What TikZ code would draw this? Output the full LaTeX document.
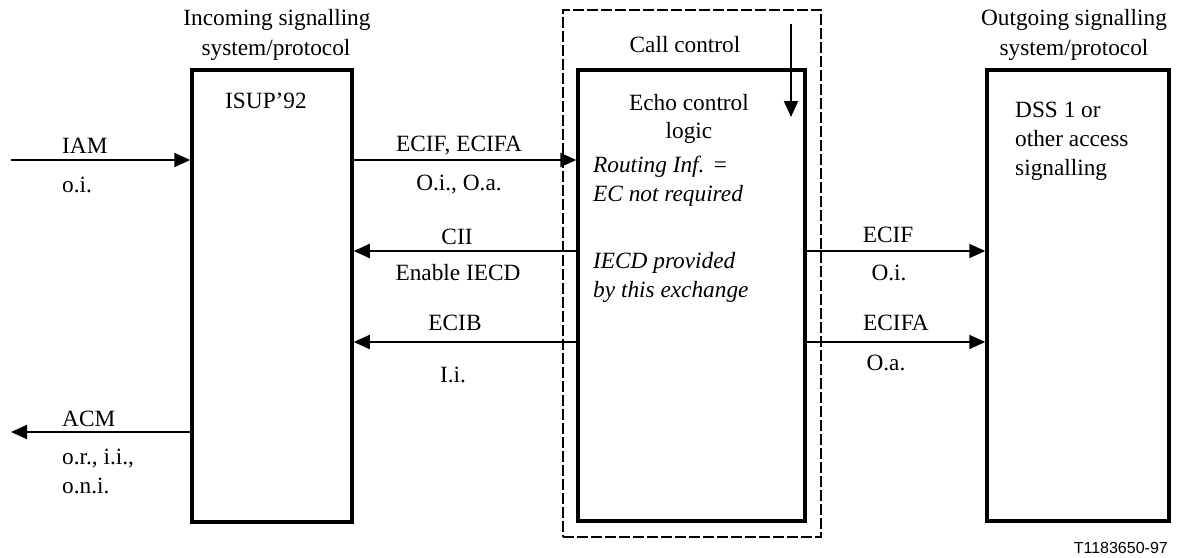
\documentclass[tikz,border=0pt]{standalone}
\usepackage{fontspec}
\setmainfont{Liberation Serif}
\newfontfamily\labelsans{Liberation Sans}
\usetikzlibrary{arrows.meta}
\begin{document}
\begin{tikzpicture}[x=1pt,y=-1pt,
  box/.style={draw, line width=3.5pt, inner sep=0pt},
  dbox/.style={draw, line width=1.5pt, dash pattern=on 11pt off 3pt, inner sep=0pt},
  arr/.style={line width=2pt, -{Triangle[length=16pt,width=14pt]}},
  lbl/.style={font=\fontsize{23.3}{28}\selectfont, inner sep=0pt, anchor=base},
  lbll/.style={lbl, anchor=base west},
  ilbl/.style={lbll, font=\fontsize{23.3}{28}\selectfont\itshape}]
\useasboundingbox (0,0) rectangle (1178,557);
\fill[white] (0,0) rectangle (1178,557);

% boxes
\node[dbox, minimum width=258pt, minimum height=527pt] (callctl) at (692,273.5) {};
\node[box, minimum width=160pt, minimum height=452pt] (isup) at (272,296) {};
\node[box, minimum width=227pt, minimum height=451pt] (cc) at (691.5,295.5) {};
\node[box, minimum width=182pt, minimum height=451pt] (out) at (1078,295.5) {};

% row coordinates
\coordinate (r1) at (0,160);
\coordinate (r2) at (0,251);
\coordinate (r3) at (0,342);
\coordinate (iamS) at (11,160);
\coordinate (acmE) at (11,432);
\coordinate (ctA) at (791,24);
\coordinate (ctB) at (791,117);

% connectors
\draw[arr] (iamS) -- (iamS -| isup.west);
\draw[arr] (isup.east |- r1) -- (cc.west |- r1);
\draw[arr] (cc.west |- r2) -- (isup.east |- r2);
\draw[arr] (cc.west |- r3) -- (isup.east |- r3);
\draw[arr] (cc.east |- r2) -- (out.west |- r2);
\draw[arr] (cc.east |- r3) -- (out.west |- r3);
\draw[arr] (isup.west |- acmE) -- (acmE);
\draw[arr] (ctA) -- (ctB);

% headings
\node[lbl] (inc1) at (277,25) {Incoming signalling};
\node[lbl] (inc2) at (276,55) {system/protocol};
\node[lbl] (outg1) at (1074,25) {Outgoing signalling};
\node[lbl] (outg2) at (1074,55) {system/protocol};
\node[lbl] (cctitle) at (685,52) {Call control};

% box contents
\node[lbl] (isuptxt) at (266,108) {ISUP’92};
\node[lbl] (echo1) at (689,110) {Echo control};
\node[lbl] (echo2) at (689,138) {logic};
\node[ilbl] (rt1) at (593,172) {Routing Inf. =};
\node[ilbl] (rt2) at (593,201) {EC not required};
\node[ilbl] (ie1) at (593,268) {IECD provided};
\node[ilbl] (ie2) at (593,297) {by this exchange};
\node[lbll] (dss1) at (1015,117) {DSS 1 or};
\node[lbll] (dss2) at (1015,146) {other access};
\node[lbll] (dss3) at (1015,175) {signalling};

% connector labels
\node[lbll] (iam) at (62,153) {IAM};
\node[lbll] (oi) at (62,192) {o.i.};
\node[lbl] (ecifa) at (459,151) {ECIF, ECIFA};
\node[lbl] (oioa) at (459,190) {O.i., O.a.};
\node[lbl] (cii) at (457,244) {CII};
\node[lbl] (enable) at (458,280) {Enable IECD};
\node[lbl] (ecib) at (455,330) {ECIB};
\node[lbl] (ii) at (453,382) {I.i.};
\node[lbl] (ecifr) at (888,242) {ECIF};
\node[lbl] (oir) at (889,280) {O.i.};
\node[lbl] (ecifar) at (896,330) {ECIFA};
\node[lbl] (oar) at (886,370) {O.a.};
\node[lbll] (acm) at (62,426) {ACM};
\node[lbll] (acm2) at (62,464) {o.r., i.i.,};
\node[lbll] (acm3) at (62,493) {o.n.i.};

\node[inner sep=0pt, anchor=base east, font=\labelsans\fontsize{16}{19}\selectfont] (ref) at (1168,553) {T1183650-97};
\end{tikzpicture}
\end{document}
